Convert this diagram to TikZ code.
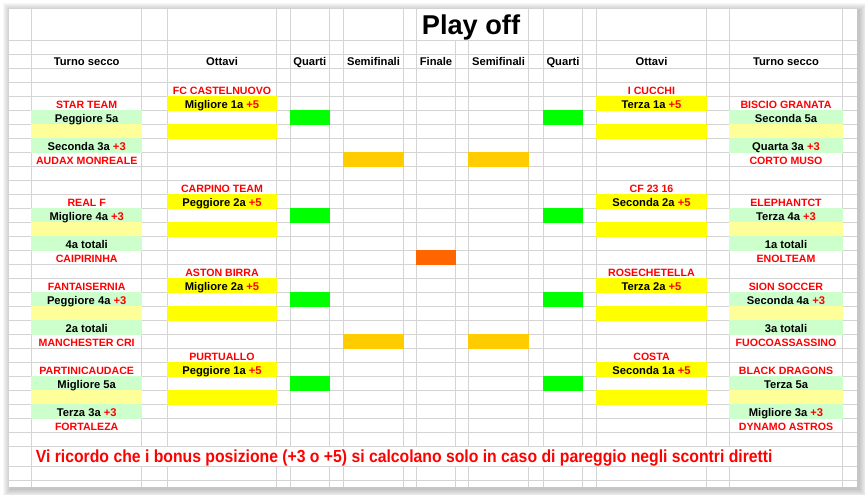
\documentclass[tikz,border=0pt]{standalone}
\usepackage{fontspec}
\setmainfont{Liberation Sans}

\definecolor{gridgray}{RGB}{212,212,212}
\definecolor{qgreen}{RGB}{0,255,0}
\definecolor{oyellow}{RGB}{255,255,0}
\definecolor{lgreen}{RGB}{204,255,204}
\definecolor{lyellow}{RGB}{255,255,153}
\definecolor{sgold}{RGB}{255,204,0}
\definecolor{forange}{RGB}{255,102,0}

\newcommand{\pts}[1]{\textcolor{red}{#1}}
% fill one cell: colour, left x, right x, row
\newcommand{\cellfill}[4]{\fill[#1] ({#2-0.6},{54.3+14*(#4)-0.6}) rectangle ({#3+0.6},{54.3+14*(#4+1)+0.6});}

\tikzset{
	gridline/.style={draw=gridgray, line width=0.8pt},
	hdr/.style={anchor=base, inner sep=0pt, font=\fontsize{11.2}{13}\selectfont\bfseries},
	seed/.style={anchor=base, inner sep=0pt, font=\fontsize{11.2}{13}\selectfont\bfseries},
	team/.style={anchor=base, inner sep=0pt, text=red, font=\fontsize{10.6}{13}\selectfont\bfseries},
}

\begin{document}
\begin{tikzpicture}[x=1pt, y=-1pt]
	\useasboundingbox (0,0) rectangle (865,495);

	% sheet and its shadow
	\foreach \k in {1,...,8} {
			\fill[black, opacity=0.03] (9-\k+1.5, 9-\k+2) rectangle (857+\k+1.5, 487+\k+2);
		}
	\fill[white] (9,9) rectangle (857,487);

	% grid
	\foreach \x in {31.7,842.7} {
			\draw[gridline] (\x,9) -- (\x,487);
		}
	\foreach \x in {141.7,167.3,276.7,290.3,329.3,343.3,403.7,416.3,528.7,543.3,582.7,596.3,706.7,729.3} {
			\draw[gridline] (\x,9) -- (\x,446.3);
			\draw[gridline] (\x,466.7) -- (\x,487);
		}
	\foreach \x in {455.7,468.3} {
			\draw[gridline] (\x,40.5) -- (\x,446.3);
			\draw[gridline] (\x,466.7) -- (\x,487);
		}
	\foreach \y in {40.5,466.7,480.5} {
			\draw[gridline] (9,\y) -- (857,\y);
		}
	\foreach \k in {0,...,28} {
			\draw[gridline] (9,{54.3+14*\k}) -- (857,{54.3+14*\k});
		}

	\node[anchor=base, inner sep=0pt, font=\fontsize{27.2}{30}\selectfont\bfseries]
	(title) at (471,34.3) {Play off};

	\node[hdr] (hTL) at (86.7,66) {Turno secco};
	\node[hdr] (hOL) at (222,66) {Ottavi};
	\node[hdr] (hQL) at (309.8,66) {Quarti};
	\node[hdr] (hSL) at (373.5,66) {Semifinali};
	\node[hdr] (hF) at (436,66) {Finale};
	\node[hdr] (hSR) at (498.5,66) {Semifinali};
	\node[hdr] (hQR) at (563,66) {Quarti};
	\node[hdr] (hOR) at (651.5,66) {Ottavi};
	\node[hdr] (hTR) at (786,66) {Turno secco};

	% left half
	\foreach \rr/\tA/\sA/\sB/\tB/\tD/\sD in {
			3/STAR TEAM/Peggiore 5a/Seconda 3a \pts{+3}/AUDAX MONREALE/FC CASTELNUOVO/Migliore 1a \pts{+5},
			10/REAL F/Migliore 4a \pts{+3}/4a totali/CAIPIRINHA/CARPINO TEAM/Peggiore 2a \pts{+5},
			16/FANTAISERNIA/Peggiore 4a \pts{+3}/2a totali/MANCHESTER CRI/ASTON BIRRA/Migliore 2a \pts{+5},
			22/PARTINICAUDACE/Migliore 5a/Terza 3a \pts{+3}/FORTALEZA/PURTUALLO/Peggiore 1a \pts{+5}} {
			\cellfill{lgreen}{31.7}{141.7}{\rr+1}
			\cellfill{lyellow}{31.7}{141.7}{\rr+2}
			\cellfill{lgreen}{31.7}{141.7}{\rr+3}
			\cellfill{oyellow}{167.3}{276.7}{\rr}
			\cellfill{oyellow}{167.3}{276.7}{\rr+2}
			\cellfill{qgreen}{290.3}{329.3}{\rr+1}

			\node[team] (L-tA-\rr) at (86.7,{66+14*\rr}) {\tA};
			\node[seed] (L-sA-\rr) at (86.7,{66+14*(\rr+1)}) {\sA};
			\node[seed] (L-sB-\rr) at (86.7,{66+14*(\rr+3)}) {\sB};
			\node[team] (L-tB-\rr) at (86.7,{66+14*(\rr+4)}) {\tB};
			\node[team] (L-tD-\rr) at (222,{66+14*(\rr-1)}) {\tD};
			\node[seed] (L-sD-\rr) at (222,{66+14*\rr}) {\sD};
		}

	% right half
	\foreach \rr/\tA/\sA/\sB/\tB/\tD/\sD in {
			3/BISCIO GRANATA/Seconda 5a/Quarta 3a \pts{+3}/CORTO MUSO/I CUCCHI/Terza 1a \pts{+5},
			10/ELEPHANTCT/Terza 4a \pts{+3}/1a totali/ENOLTEAM/CF 23 16/Seconda 2a \pts{+5},
			16/SION SOCCER/Seconda 4a \pts{+3}/3a totali/FUOCOASSASSINO/ROSECHETELLA/Terza 2a \pts{+5},
			22/BLACK DRAGONS/Terza 5a/Migliore 3a \pts{+3}/DYNAMO ASTROS/COSTA/Seconda 1a \pts{+5}} {
			\cellfill{lgreen}{729.3}{842.7}{\rr+1}
			\cellfill{lyellow}{729.3}{842.7}{\rr+2}
			\cellfill{lgreen}{729.3}{842.7}{\rr+3}
			\cellfill{oyellow}{596.3}{706.7}{\rr}
			\cellfill{oyellow}{596.3}{706.7}{\rr+2}
			\cellfill{qgreen}{543.3}{582.7}{\rr+1}

			\node[team] (R-tA-\rr) at (786,{66+14*\rr}) {\tA};
			\node[seed] (R-sA-\rr) at (786,{66+14*(\rr+1)}) {\sA};
			\node[seed] (R-sB-\rr) at (786,{66+14*(\rr+3)}) {\sB};
			\node[team] (R-tB-\rr) at (786,{66+14*(\rr+4)}) {\tB};
			\node[team] (R-tD-\rr) at (651.5,{66+14*(\rr-1)}) {\tD};
			\node[seed] (R-sD-\rr) at (651.5,{66+14*\rr}) {\sD};
		}

	% semifinal and final slots
	\foreach \rr in {7,20} {
			\cellfill{sgold}{343.3}{403.7}{\rr}
			\cellfill{sgold}{468.3}{528.7}{\rr}
		}
	\cellfill{forange}{416.3}{455.7}{14}

	\node[anchor=base west, inner sep=0pt, text=red,
		font=\fontsize{17.5}{20}\selectfont\bfseries] (note) at (35.7,462.7)
	{\scalebox{0.9}[1]{Vi ricordo che i bonus posizione (+3 o +5) si calcolano solo in caso di pareggio negli scontri diretti}};
\end{tikzpicture}
\end{document}
